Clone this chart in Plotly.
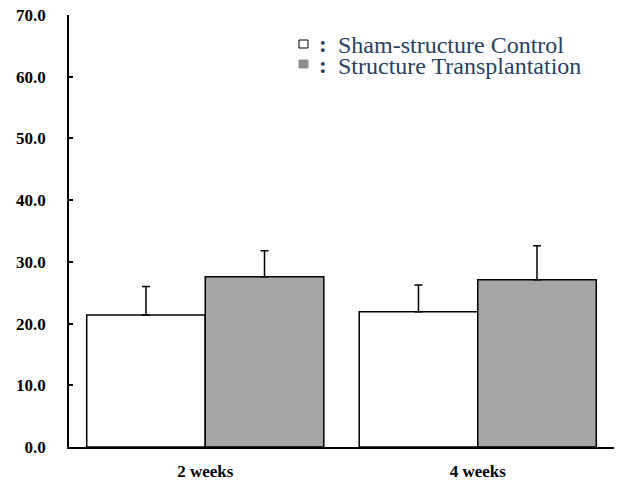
import plotly.graph_objects as go

categories = ["2 weeks", "4 weeks"]
control_values = [21.4, 21.9]
control_errors = [4.6, 4.35]
transplant_values = [27.6, 27.1]
transplant_errors = [4.2, 5.5]
y_tick_values = [0, 10, 20, 30, 40, 50, 60, 70]
y_tick_labels = ["0.0", "10.0", "20.0", "30.0", "40.0", "50.0", "60.0", "70.0"]
legend_labels = ["Sham-structure Control", "Structure Transplantation"]

W, H = 619, 487
L, R, T, B = 69, 5, 15, 40
PW, PH = W - L - R, H - T - B

def px(x):
    return (x - L) / PW

def py(y):
    return (H - B - y) / PH

SERIF = "Liberation Serif"
BAR_GRAY = "#a6a6a6"
KEY_GRAY = "#8c8c8c"

fig = go.Figure()
fig.add_trace(go.Bar(
    x=categories, y=control_values, name=legend_labels[0],
    marker=dict(color="white", line=dict(color="black", width=1.5)),
    error_y=dict(type="data", array=control_errors, arrayminus=[0, 0], symmetric=False,
                 color="black", thickness=1.5, width=4),
))
fig.add_trace(go.Bar(
    x=categories, y=transplant_values, name=legend_labels[1],
    marker=dict(color=BAR_GRAY, line=dict(color="black", width=1.5)),
    error_y=dict(type="data", array=transplant_errors, arrayminus=[0, 0], symmetric=False,
                 color="black", thickness=1.5, width=4),
))

fig.update_layout(
    width=W, height=H,
    margin=dict(l=L, r=R, t=T, b=B, pad=0),
    paper_bgcolor="white", plot_bgcolor="white",
    barmode="group", bargap=0.13, bargroupgap=0,
    showlegend=False,
)
fig.update_xaxes(
    range=[-0.5, 1.5], showline=True, linecolor="black", linewidth=1.5,
    ticks="", showgrid=False, zeroline=False,
    tickvals=categories, ticktext=["<b>" + c + "</b>" for c in categories],
    tickfont=dict(family="Times New Roman", size=17, color="black"),
    ticklabelstandoff=8,
)
fig.update_yaxes(
    range=[0, 70], tickvals=y_tick_values, ticktext=["<b>" + t + "</b>" for t in y_tick_labels],
    showline=True, linecolor="black", linewidth=1.5,
    ticks="inside", ticklen=4, tickwidth=1.5, tickcolor="black",
    showgrid=False, zeroline=False,
    tickfont=dict(family="Tinos", size=17, color="black"),
    ticklabelstandoff=18,
)

# legend keys (decorative)
key_boxes = [(299, 40, 308, 48, "white"), (299, 60, 308, 68, KEY_GRAY)]
for x0, y0, x1, y1, c in key_boxes:
    fig.add_shape(type="rect", xref="paper", yref="paper",
                  x0=px(x0), x1=px(x1), y0=py(y1), y1=py(y0),
                  fillcolor=c, line=dict(color="black" if c == "white" else c, width=1))

row_y = [44.5, 65.5]
for label, yy in zip(legend_labels, row_y):
    fig.add_annotation(xref="paper", yref="paper", x=px(322.5), y=py(yy),
                       text="<b>:</b>", showarrow=False, xanchor="center", yanchor="middle",
                       font=dict(family=SERIF, size=23))
    fig.add_annotation(xref="paper", yref="paper", x=px(336), y=py(yy),
                       text=label, showarrow=False, xanchor="left", yanchor="middle",
                       font=dict(family=SERIF, size=24))

fig.write_html("out.html")
